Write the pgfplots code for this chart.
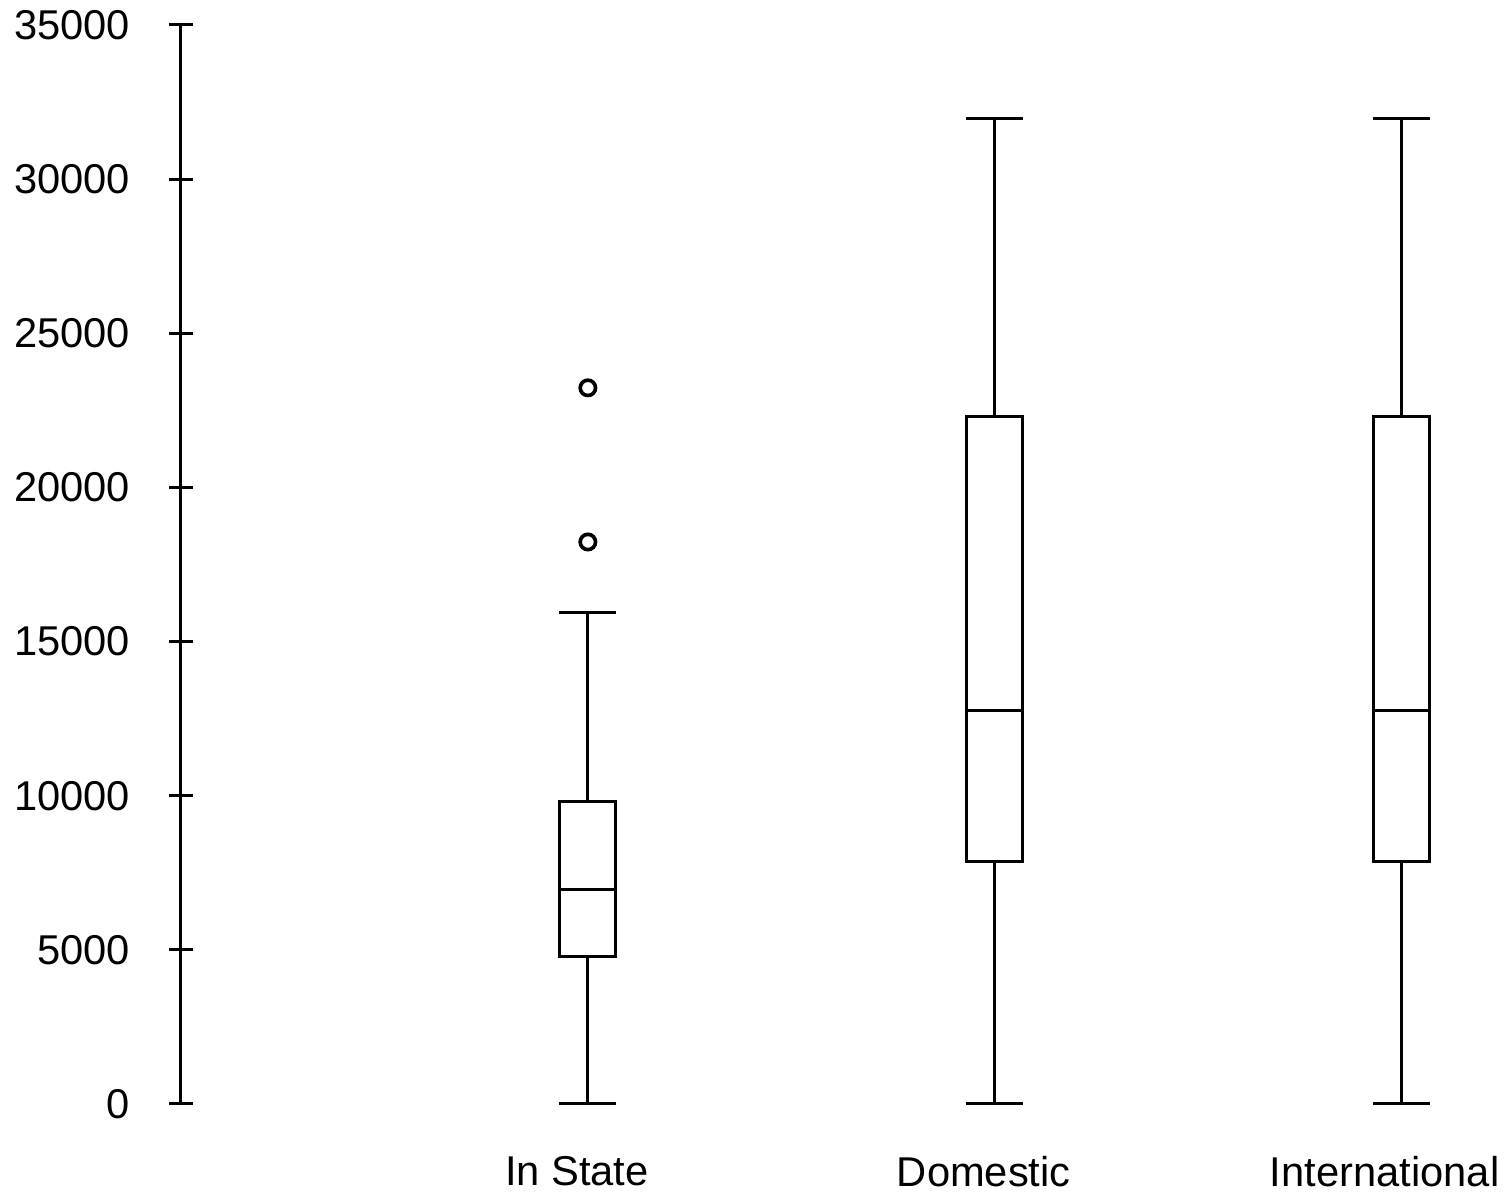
\documentclass[border=0pt]{standalone}
\usepackage{fontspec}
\setmainfont{Liberation Sans}
\usepackage{pgfplots}
\pgfplotsset{compat=1.18}
\usepgfplotslibrary{statistics}
\begin{document}
\begin{tikzpicture}
\begin{axis}[
  scale only axis, width=390.6pt, height=323.7pt,
  xmin=0, xmax=3.2, ymin=0, ymax=35000,
  clip=false,
  axis lines=left,
  axis line style={-, line width=0.9pt, black},
  x axis line style={draw=none},
  xtick={1,2,3},
  xticklabels={In State,Domestic,\kern-3.6pt International},
  x tick style={draw=none},
  ytick={0,5000,10000,15000,20000,25000,30000,35000},
  scaled y ticks=false,
  /pgf/number format/assume math mode=true,
  y tick label style={/pgf/number format/1000 sep={}, font=\fontsize{12.5}{14}\selectfont, xshift=-8.2pt},
  x tick label style={font=\fontsize{12.5}{14}\selectfont, yshift=-8.5pt, xshift=-3.3pt},
  tick align=center,
  major tick length=7.2pt,
  y tick style={line width=0.9pt, black},
  boxplot/draw direction=y,
]
\addplot[black, line width=0.9pt, mark=o, mark size=2.3pt, mark options={solid, line width=1.1pt},
  boxplot prepared={lower whisker=0, lower quartile=4770, median=6960, upper quartile=9800, upper whisker=15930, draw position=1, box extend=0.138, whisker extend=0.14}]
  table[row sep=\\, y index=0] {18230\\ 23230\\};
\addplot[black, line width=0.9pt, mark=*, mark options={opacity=0, draw opacity=0, fill opacity=0},
  boxplot prepared={lower whisker=0, lower quartile=7880, median=12750, upper quartile=22290, upper whisker=31960, draw position=2, box extend=0.138, whisker extend=0.14}]
  table[row sep=\\, y index=0] {31960\\};
\addplot[black, line width=0.9pt, mark=*, mark options={opacity=0, draw opacity=0, fill opacity=0},
  boxplot prepared={lower whisker=0, lower quartile=7880, median=12750, upper quartile=22290, upper whisker=31960, draw position=3, box extend=0.138, whisker extend=0.14}]
  table[row sep=\\, y index=0] {31960\\};
\end{axis}
\pgfresetboundingbox
\path[use as bounding box] (-54.3pt,-26.4pt) rectangle (397.8pt,331.2pt);
\end{tikzpicture}
\end{document}
